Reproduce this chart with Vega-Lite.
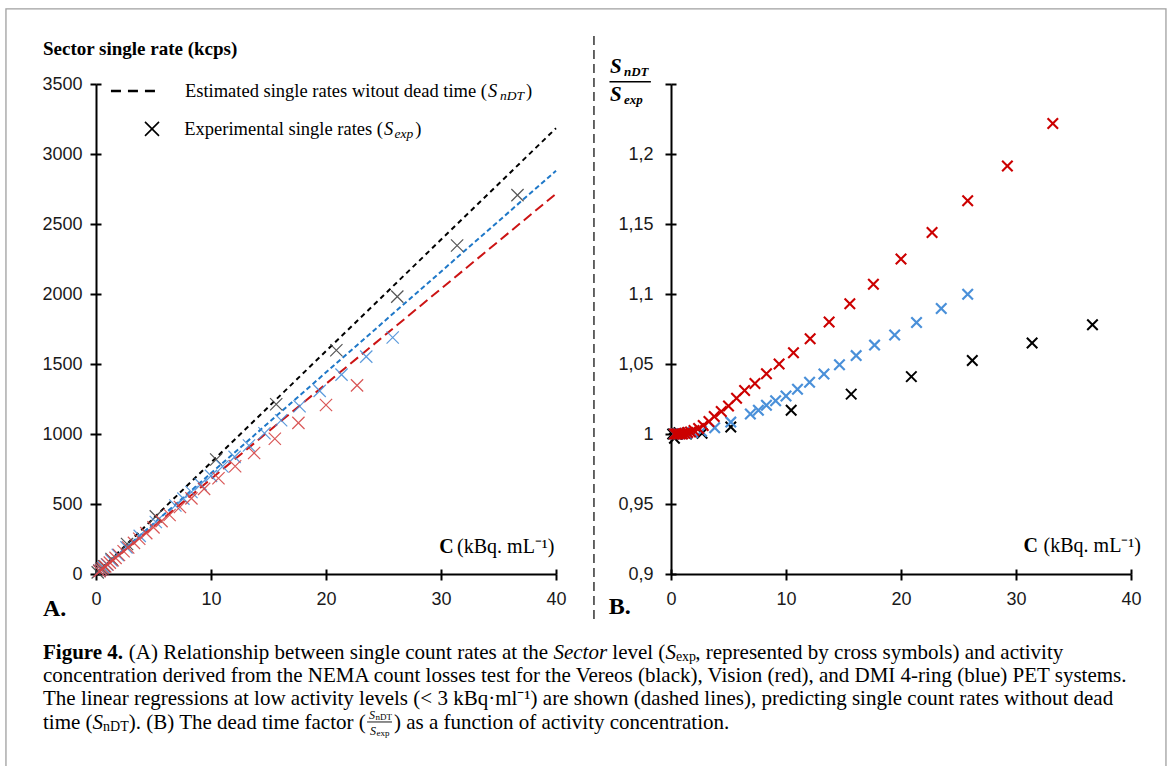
{
  "$schema": "https://vega.github.io/schema/vega-lite/v6.json",
  "padding": {"left": 5, "top": 8, "right": 0, "bottom": 0},
  "background": "white",
  "spacing": 115,
  "bounds": "flush",
  "config": {
    "view": {"stroke": null},
    "axis": {"domainColor": "#000", "domainWidth": 2, "tickColor": "#000", "tickWidth": 2, "grid": false, "labelFont": "Liberation Sans", "labelFontSize": 18, "labelColor": "#1a1a1a", "labelFlush": false},
    "text": {"font": "Liberation Serif", "color": "#000"}
  },
  "datasets": {
    "one": [{}],
    "fits": [
      {"sys": "Vereos", "C": 0, "S": 0}, {"sys": "Vereos", "C": 40, "S": 3184},
      {"sys": "Vision", "C": 0, "S": 0}, {"sys": "Vision", "C": 40, "S": 2716},
      {"sys": "DMI", "C": 0, "S": 0}, {"sys": "DMI", "C": 40, "S": 2880}
    ],
    "pts": [
      {"sys": "Vereos", "C": 0.15, "R": 1.0, "S": 11.9},
      {"sys": "Vereos", "C": 0.3, "R": 0.997, "S": 24},
      {"sys": "Vereos", "C": 0.5, "R": 1.0, "S": 39.8},
      {"sys": "Vereos", "C": 0.7, "R": 1.001, "S": 55.7},
      {"sys": "Vereos", "C": 1.35, "R": 1.0, "S": 107.5},
      {"sys": "Vereos", "C": 2.7, "R": 1.0005, "S": 214.8},
      {"sys": "Vereos", "C": 5.2, "R": 1.005, "S": 411.9},
      {"sys": "Vereos", "C": 10.45, "R": 1.017, "S": 817.9},
      {"sys": "Vereos", "C": 15.67, "R": 1.0285, "S": 1212.8},
      {"sys": "Vereos", "C": 20.9, "R": 1.041, "S": 1598.1},
      {"sys": "Vereos", "C": 26.2, "R": 1.0525, "S": 1981.5},
      {"sys": "Vereos", "C": 31.4, "R": 1.065, "S": 2346.9},
      {"sys": "Vereos", "C": 36.65, "R": 1.078, "S": 2706.3},
      {"sys": "DMI", "C": 0.3, "R": 1.0, "S": 21.6},
      {"sys": "DMI", "C": 0.45, "R": 1.0, "S": 32.4},
      {"sys": "DMI", "C": 0.65, "R": 1.0, "S": 46.8},
      {"sys": "DMI", "C": 0.95, "R": 1.0002, "S": 68.4},
      {"sys": "DMI", "C": 1.35, "R": 1.0005, "S": 97.2},
      {"sys": "DMI", "C": 1.9, "R": 1.001, "S": 136.7},
      {"sys": "DMI", "C": 2.65, "R": 1.002, "S": 190.4},
      {"sys": "DMI", "C": 3.8, "R": 1.0045, "S": 272.4},
      {"sys": "DMI", "C": 5.2, "R": 1.0085, "S": 371.2},
      {"sys": "DMI", "C": 6.9, "R": 1.0143, "S": 489.8},
      {"sys": "DMI", "C": 7.6, "R": 1.017, "S": 538.1},
      {"sys": "DMI", "C": 8.3, "R": 1.0205, "S": 585.6},
      {"sys": "DMI", "C": 9.1, "R": 1.0237, "S": 640.0},
      {"sys": "DMI", "C": 10.0, "R": 1.0272, "S": 700.9},
      {"sys": "DMI", "C": 11.0, "R": 1.032, "S": 767.4},
      {"sys": "DMI", "C": 12.05, "R": 1.037, "S": 836.6},
      {"sys": "DMI", "C": 13.3, "R": 1.0428, "S": 918.3},
      {"sys": "DMI", "C": 14.65, "R": 1.0495, "S": 1005.1},
      {"sys": "DMI", "C": 16.1, "R": 1.056, "S": 1097.7},
      {"sys": "DMI", "C": 17.7, "R": 1.0635, "S": 1198.3},
      {"sys": "DMI", "C": 19.45, "R": 1.0707, "S": 1307.9},
      {"sys": "DMI", "C": 21.35, "R": 1.0796, "S": 1423.9},
      {"sys": "DMI", "C": 23.5, "R": 1.0896, "S": 1552.9},
      {"sys": "DMI", "C": 25.8, "R": 1.0998, "S": 1689.0},
      {"sys": "Vision", "C": 0.3, "R": 1.0, "S": 20.4},
      {"sys": "Vision", "C": 0.45, "R": 1.0, "S": 30.6},
      {"sys": "Vision", "C": 0.6, "R": 1.0, "S": 40.7},
      {"sys": "Vision", "C": 0.8, "R": 1.0, "S": 54.3},
      {"sys": "Vision", "C": 1.0, "R": 1.0, "S": 67.9},
      {"sys": "Vision", "C": 1.2, "R": 1.0005, "S": 81.4},
      {"sys": "Vision", "C": 1.45, "R": 1.001, "S": 98.4},
      {"sys": "Vision", "C": 1.7, "R": 1.0015, "S": 115.3},
      {"sys": "Vision", "C": 2.0, "R": 1.0025, "S": 135.5},
      {"sys": "Vision", "C": 2.4, "R": 1.004, "S": 162.3},
      {"sys": "Vision", "C": 2.8, "R": 1.006, "S": 189.0},
      {"sys": "Vision", "C": 3.3, "R": 1.009, "S": 222.1},
      {"sys": "Vision", "C": 3.76, "R": 1.0125, "S": 252.1},
      {"sys": "Vision", "C": 4.37, "R": 1.016, "S": 292.0},
      {"sys": "Vision", "C": 5.0, "R": 1.02, "S": 332.8},
      {"sys": "Vision", "C": 5.7, "R": 1.0255, "S": 377.4},
      {"sys": "Vision", "C": 6.4, "R": 1.031, "S": 421.5},
      {"sys": "Vision", "C": 7.3, "R": 1.036, "S": 478.4},
      {"sys": "Vision", "C": 8.3, "R": 1.043, "S": 540.3},
      {"sys": "Vision", "C": 9.4, "R": 1.05, "S": 607.9},
      {"sys": "Vision", "C": 10.65, "R": 1.058, "S": 683.5},
      {"sys": "Vision", "C": 12.1, "R": 1.068, "S": 769.3},
      {"sys": "Vision", "C": 13.75, "R": 1.08, "S": 864.5},
      {"sys": "Vision", "C": 15.55, "R": 1.093, "S": 966.0},
      {"sys": "Vision", "C": 17.6, "R": 1.107, "S": 1079.5},
      {"sys": "Vision", "C": 20.0, "R": 1.125, "S": 1207.1},
      {"sys": "Vision", "C": 22.7, "R": 1.144, "S": 1347.3},
      {"sys": "Vision", "C": 25.8, "R": 1.1666, "S": null},
      {"sys": "Vision", "C": 29.25, "R": 1.1915, "S": null},
      {"sys": "Vision", "C": 33.2, "R": 1.2218, "S": null}
    ]
  },
  "hconcat": [
    {
      "width": 460,
      "height": 490,
      "resolve": {"axis": {"x": "independent", "y": "independent"}, "scale": {"color": "independent"}},
      "layer": [
        {
          "data": {"name": "fits"},
          "mark": {"type": "line", "strokeWidth": 2},
          "encoding": {
            "x": {"field": "C", "type": "quantitative", "scale": {"domain": [0, 40], "nice": false}, "axis": {"orient": "bottom", "values": [0, 10, 20, 30, 40], "tickSize": -5, "labels": false, "domain": false, "title": null}},
            "y": {"field": "S", "type": "quantitative", "scale": {"domain": [0, 3500], "nice": false}, "axis": {"orient": "left", "values": [0, 500, 1000, 1500, 2000, 2500, 3000, 3500], "tickSize": -5, "labels": false, "domain": false, "title": null}},
            "color": {"field": "sys", "type": "nominal", "scale": {"domain": ["Vereos", "Vision", "DMI"], "range": ["#000000", "#cc1414", "#1f78c8"]}, "legend": null},
            "strokeDash": {"field": "sys", "type": "nominal", "scale": {"domain": ["Vereos", "Vision", "DMI"], "range": [[5, 4], [10, 5], [5, 3]]}, "legend": null}
          }
        },
        {
          "layer": [
            {
              "data": {"name": "pts"},
              "mark": {"type": "point", "shape": "M-1,-1L1,1M-1,1L1,-1", "filled": false, "size": 150, "strokeWidth": 1.2, "opacity": 0.9},
              "encoding": {
                "x": {"field": "C", "type": "quantitative", "scale": {"domain": [0, 40], "nice": false}, "axis": {"orient": "bottom", "values": [0, 10, 20, 30, 40], "tickSize": 6, "labelPadding": 10, "title": null}},
                "y": {"field": "S", "type": "quantitative", "scale": {"domain": [0, 3500], "nice": false}, "axis": {"orient": "left", "values": [0, 500, 1000, 1500, 2000, 2500, 3000, 3500], "format": "d", "tickSize": 6, "labelPadding": 8, "title": null}},
                "color": {"field": "sys", "type": "nominal", "scale": {"domain": ["Vereos", "Vision", "DMI"], "range": ["#444444", "#d64545", "#4a90d9"]}, "legend": null}
              }
            },
            {
              "data": {"name": "one"},
              "mark": {"type": "rect", "filled": false, "stroke": "#a0a0a0", "strokeWidth": 1.3},
              "encoding": {"x": {"datum": -7.83}, "x2": {"datum": 93.04}, "y": {"datum": 4036}, "y2": {"datum": -1420}}
            },
            {
              "data": {"name": "one"},
              "mark": {"type": "rule", "strokeDash": [10, 7], "strokeWidth": 2.5, "color": "#000"},
              "encoding": {"x": {"datum": 1.3}, "x2": {"datum": 5.65}, "y": {"datum": 3450}}
            },
            {
              "data": {"name": "one"},
              "mark": {"type": "point", "shape": "M-1,-1L1,1M-1,1L1,-1", "filled": false, "size": 196, "strokeWidth": 1.6, "color": "#000", "opacity": 1},
              "encoding": {"x": {"datum": 4.87}, "y": {"datum": 3179}}
            },
            {"data": {"name": "one"}, "mark": {"type": "text", "align": "right", "baseline": "middle", "fontSize": 18.5}, "encoding": {"x": {"datum": 34.0}, "y": {"datum": 3450}, "text": {"value": "Estimated single rates witout dead time ("}}},
            {"data": {"name": "one"}, "mark": {"type": "text", "align": "left", "baseline": "middle", "fontSize": 18.5, "fontStyle": "italic"}, "encoding": {"x": {"datum": 34.09}, "y": {"datum": 3450}, "text": {"value": "S"}}},
            {"data": {"name": "one"}, "mark": {"type": "text", "align": "left", "baseline": "middle", "fontSize": 13.5, "fontStyle": "italic", "dy": 5}, "encoding": {"x": {"datum": 35.13}, "y": {"datum": 3450}, "text": {"value": "nDT"}}},
            {"data": {"name": "one"}, "mark": {"type": "text", "align": "left", "baseline": "middle", "fontSize": 18.5}, "encoding": {"x": {"datum": 37.39}, "y": {"datum": 3450}, "text": {"value": ")"}}},
            {"data": {"name": "one"}, "mark": {"type": "text", "align": "right", "baseline": "middle", "fontSize": 18.5}, "encoding": {"x": {"datum": 24.96}, "y": {"datum": 3179}, "text": {"value": "Experimental single rates ("}}},
            {"data": {"name": "one"}, "mark": {"type": "text", "align": "left", "baseline": "middle", "fontSize": 18.5, "fontStyle": "italic"}, "encoding": {"x": {"datum": 25.04}, "y": {"datum": 3179}, "text": {"value": "S"}}},
            {"data": {"name": "one"}, "mark": {"type": "text", "align": "left", "baseline": "middle", "fontSize": 13.5, "fontStyle": "italic", "dy": 5}, "encoding": {"x": {"datum": 25.96}, "y": {"datum": 3179}, "text": {"value": "exp"}}},
            {"data": {"name": "one"}, "mark": {"type": "text", "align": "left", "baseline": "middle", "fontSize": 18.5}, "encoding": {"x": {"datum": 27.75}, "y": {"datum": 3179}, "text": {"value": ")"}}},
            {"data": {"name": "one"}, "mark": {"type": "text", "align": "left", "baseline": "middle", "fontSize": 19, "fontWeight": "bold"}, "encoding": {"x": {"datum": -4.61}, "y": {"datum": 3750}, "text": {"value": "Sector single rate (kcps)"}}},
            {"data": {"name": "one"}, "mark": {"type": "text", "align": "right", "baseline": "middle", "fontSize": 20, "fontWeight": "bold"}, "encoding": {"x": {"datum": 31.1}, "y": {"datum": 193}, "text": {"value": "C"}}},
            {"data": {"name": "one"}, "mark": {"type": "text", "align": "left", "baseline": "middle", "fontSize": 20}, "encoding": {"x": {"datum": 31.4}, "y": {"datum": 193}, "text": {"value": "(kBq. mL⁻¹)"}}},
            {"data": {"name": "one"}, "mark": {"type": "text", "align": "left", "baseline": "middle", "fontSize": 24, "fontWeight": "bold"}, "encoding": {"x": {"datum": -4.61}, "y": {"datum": -250}, "text": {"value": "A."}}},
            {"data": {"name": "one"}, "mark": {"type": "text", "align": "left", "baseline": "middle", "fontSize": 21, "fontWeight": "bold"}, "encoding": {"x": {"datum": -4.609}, "y": {"datum": -564}, "text": {"value": "Figure 4."}}},
            {"data": {"name": "one"}, "mark": {"type": "text", "align": "left", "baseline": "middle", "fontSize": 21}, "encoding": {"x": {"datum": 2.852}, "y": {"datum": -564}, "text": {"value": "(A) Relationship between single count rates at the"}}},
            {"data": {"name": "one"}, "mark": {"type": "text", "align": "left", "baseline": "middle", "fontSize": 21, "fontStyle": "italic"}, "encoding": {"x": {"datum": 39.774}, "y": {"datum": -564}, "text": {"value": "Sector"}}},
            {"data": {"name": "one"}, "mark": {"type": "text", "align": "left", "baseline": "middle", "fontSize": 21}, "encoding": {"x": {"datum": 44.896}, "y": {"datum": -564}, "text": {"value": "level ("}}},
            {"data": {"name": "one"}, "mark": {"type": "text", "align": "left", "baseline": "middle", "fontSize": 21, "fontStyle": "italic"}, "encoding": {"x": {"datum": 49.513}, "y": {"datum": -564}, "text": {"value": "S"}}},
            {"data": {"name": "one"}, "mark": {"type": "text", "align": "left", "baseline": "middle", "fontSize": 14, "dy": 4}, "encoding": {"x": {"datum": 50.426}, "y": {"datum": -564}, "text": {"value": "exp"}}},
            {"data": {"name": "one"}, "mark": {"type": "text", "align": "left", "baseline": "middle", "fontSize": 21}, "encoding": {"x": {"datum": 52.113}, "y": {"datum": -564}, "text": {"value": ", represented by cross symbols) and activity"}}},
            {"data": {"name": "one"}, "mark": {"type": "text", "align": "left", "baseline": "middle", "fontSize": 21}, "encoding": {"x": {"datum": -4.609}, "y": {"datum": -729}, "text": {"value": "concentration derived from the NEMA count losses test for the Vereos (black), Vision (red), and DMI 4-ring (blue) PET systems."}}},
            {"data": {"name": "one"}, "mark": {"type": "text", "align": "left", "baseline": "middle", "fontSize": 21}, "encoding": {"x": {"datum": -4.609}, "y": {"datum": -893}, "text": {"value": "The linear regressions at low activity levels (< 3 kBq·ml⁻¹) are shown (dashed lines), predicting single count rates without dead"}}},
            {"data": {"name": "one"}, "mark": {"type": "text", "align": "left", "baseline": "middle", "fontSize": 21}, "encoding": {"x": {"datum": -4.609}, "y": {"datum": -1064}, "text": {"value": "time ("}}},
            {"data": {"name": "one"}, "mark": {"type": "text", "align": "left", "baseline": "middle", "fontSize": 21, "fontStyle": "italic"}, "encoding": {"x": {"datum": -0.296}, "y": {"datum": -1064}, "text": {"value": "S"}}},
            {"data": {"name": "one"}, "mark": {"type": "text", "align": "left", "baseline": "middle", "fontSize": 14, "dy": 4}, "encoding": {"x": {"datum": 0.617}, "y": {"datum": -1064}, "text": {"value": "nDT"}}},
            {"data": {"name": "one"}, "mark": {"type": "text", "align": "left", "baseline": "middle", "fontSize": 21}, "encoding": {"x": {"datum": 2.852}, "y": {"datum": -1064}, "text": {"value": "). (B) The dead time factor ("}}},
            {"data": {"name": "one"}, "mark": {"type": "text", "align": "left", "baseline": "middle", "fontSize": 12, "fontStyle": "italic"}, "encoding": {"x": {"datum": 23.74}, "y": {"datum": -1007}, "text": {"value": "S"}}},
            {"data": {"name": "one"}, "mark": {"type": "text", "align": "left", "baseline": "middle", "fontSize": 9, "dy": 2}, "encoding": {"x": {"datum": 24.3}, "y": {"datum": -1007}, "text": {"value": "nDT"}}},
            {"data": {"name": "one"}, "mark": {"type": "rule", "strokeWidth": 0.9, "color": "#000"}, "encoding": {"x": {"datum": 23.57}, "x2": {"datum": 25.74}, "y": {"datum": -1057}}},
            {"data": {"name": "one"}, "mark": {"type": "text", "align": "left", "baseline": "middle", "fontSize": 12, "fontStyle": "italic"}, "encoding": {"x": {"datum": 23.83}, "y": {"datum": -1121}, "text": {"value": "S"}}},
            {"data": {"name": "one"}, "mark": {"type": "text", "align": "left", "baseline": "middle", "fontSize": 9, "dy": 2}, "encoding": {"x": {"datum": 24.39}, "y": {"datum": -1121}, "text": {"value": "exp"}}},
            {"data": {"name": "one"}, "mark": {"type": "text", "align": "left", "baseline": "middle", "fontSize": 21}, "encoding": {"x": {"datum": 25.91}, "y": {"datum": -1064}, "text": {"value": ") as a function of activity concentration."}}}
          ]
        }
      ]
    },
    {
      "width": 460,
      "height": 490,
      "resolve": {"axis": {"x": "independent", "y": "independent"}, "scale": {"color": "independent"}},
      "layer": [
        {
          "data": {"name": "fits"},
          "mark": {"type": "line", "opacity": 0},
          "encoding": {
            "x": {"field": "C", "type": "quantitative", "scale": {"domain": [0, 40], "nice": false}, "axis": {"orient": "bottom", "values": [0, 10, 20, 30, 40], "tickSize": -5, "labels": false, "domain": false, "title": null}},
            "y": {"datum": 1, "type": "quantitative", "scale": {"domain": [0.9, 1.25], "nice": false}, "axis": {"orient": "left", "values": [0.9, 0.95, 1, 1.05, 1.1, 1.15, 1.2, 1.25], "tickSize": -5, "labels": false, "domain": false, "title": null}}
          }
        },
        {
          "layer": [
            {
              "data": {"name": "pts"},
              "mark": {"type": "point", "shape": "M-1,-1L1,1M-1,1L1,-1", "filled": false, "size": 110, "opacity": 1},
              "encoding": {
                "x": {"field": "C", "type": "quantitative", "scale": {"domain": [0, 40], "nice": false}, "axis": {"orient": "bottom", "values": [0, 10, 20, 30, 40], "tickSize": 6, "labelPadding": 10, "title": null}},
                "y": {"field": "R", "type": "quantitative", "scale": {"domain": [0.9, 1.25], "nice": false}, "axis": {"orient": "left", "values": [0.9, 0.95, 1, 1.05, 1.1, 1.15, 1.2, 1.25], "format": "~g", "labelExpr": "datum.value > 1.24 ? '' : replace(datum.label, '.', ',')", "tickSize": 6, "labelPadding": 12, "title": null}},
                "color": {"field": "sys", "type": "nominal", "scale": {"domain": ["Vereos", "Vision", "DMI"], "range": ["#000000", "#cc0000", "#4a90d9"]}, "legend": null},
                "strokeWidth": {"field": "sys", "type": "nominal", "scale": {"domain": ["Vereos", "Vision", "DMI"], "range": [2, 2.2, 1.3]}, "legend": null}
              }
            },
            {
              "data": {"name": "one"},
              "mark": {"type": "rule", "strokeDash": [9, 5], "strokeWidth": 1.5, "color": "#333"},
              "encoding": {"x": {"datum": -6.7}, "y": {"datum": 1.2843}, "y2": {"datum": 0.8664}}
            },
            {"data": {"name": "one"}, "mark": {"type": "text", "align": "left", "baseline": "middle", "fontSize": 21, "fontWeight": "bold", "fontStyle": "italic"}, "encoding": {"x": {"datum": -5.3}, "y": {"datum": 1.2621}, "text": {"value": "S"}}},
            {"data": {"name": "one"}, "mark": {"type": "text", "align": "left", "baseline": "middle", "fontSize": 13, "fontWeight": "bold", "fontStyle": "italic"}, "encoding": {"x": {"datum": -4.09}, "y": {"datum": 1.2586}, "text": {"value": "nDT"}}},
            {
              "data": {"name": "one"},
              "mark": {"type": "rule", "strokeWidth": 1.6, "color": "#000"},
              "encoding": {"x": {"datum": -5.35}, "x2": {"datum": -1.75}, "y": {"datum": 1.2516}}
            },
            {"data": {"name": "one"}, "mark": {"type": "text", "align": "left", "baseline": "middle", "fontSize": 21, "fontWeight": "bold", "fontStyle": "italic"}, "encoding": {"x": {"datum": -5.3}, "y": {"datum": 1.2421}, "text": {"value": "S"}}},
            {"data": {"name": "one"}, "mark": {"type": "text", "align": "left", "baseline": "middle", "fontSize": 13, "fontWeight": "bold", "fontStyle": "italic"}, "encoding": {"x": {"datum": -4.09}, "y": {"datum": 1.2386}, "text": {"value": "exp"}}},
            {"data": {"name": "one"}, "mark": {"type": "text", "align": "right", "baseline": "middle", "fontSize": 20, "fontWeight": "bold"}, "encoding": {"x": {"datum": 31.9}, "y": {"datum": 0.9202}, "text": {"value": "C"}}},
            {"data": {"name": "one"}, "mark": {"type": "text", "align": "left", "baseline": "middle", "fontSize": 20}, "encoding": {"x": {"datum": 32.4}, "y": {"datum": 0.9202}, "text": {"value": "(kBq. mL⁻¹)"}}},
            {"data": {"name": "one"}, "mark": {"type": "text", "align": "left", "baseline": "middle", "fontSize": 24, "fontWeight": "bold"}, "encoding": {"x": {"datum": -5.42}, "y": {"datum": 0.8764}, "text": {"value": "B."}}}
          ]
        }
      ]
    }
  ]
}
